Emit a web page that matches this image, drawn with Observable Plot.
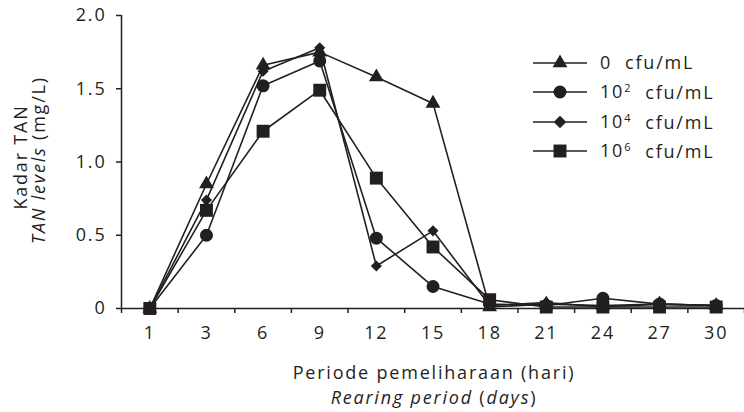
<!DOCTYPE html>
<html><head><meta charset="utf-8">
<script src="https://cdn.jsdelivr.net/npm/d3@7"></script>
<script src="https://cdn.jsdelivr.net/npm/@observablehq/plot@0.6"></script>
<style>
body{margin:0;background:#fff}
svg text{letter-spacing:1.8px}
</style>
</head><body><div id="chart"></div>
<script>
const days = [1, 3, 6, 9, 12, 15, 18, 21, 24, 27, 30];
const tan0 = [0, 0.85, 1.66, 1.75, 1.58, 1.40, 0.01, 0.03, 0.02, 0.03, 0.02];
const tan2 = [0, 0.50, 1.52, 1.69, 0.48, 0.15, 0.03, 0.02, 0.07, 0.03, 0.02];
const tan4 = [0, 0.74, 1.62, 1.78, 0.29, 0.53, 0.02, 0.04, 0.01, 0.03, 0.02];
const tan6 = [0, 0.67, 1.21, 1.49, 0.89, 0.42, 0.06, 0.01, 0.01, 0.01, 0.01];
const seriesBase = ["0", "10", "10", "10"];
const seriesExp = ["", "2", "4", "6"];
const yTicks = [0, 0.5, 1, 1.5, 2];

const symbols = ["triangle", "circle", "diamond2", "square"];
const radii = [5.5, 6.5, 5, 7.3];
const allValues = [tan0, tan2, tan4, tan6];

const idx = d3.range(days.length);
const seriesData = allValues.map(vals => idx.map(i => ({i, v: vals[i]})));

const marks = [
  Plot.ruleY([0], {stroke: "#231f20", strokeWidth: 1.5}),
  Plot.ruleX([-0.5], {y1: 0, y2: 2, stroke: "#231f20", strokeWidth: 1.5}),
  Plot.axisY({ticks: yTicks, tickFormat: d => d === 0 ? "0" : d.toFixed(1), tickSize: 5, tickPadding: 10, label: null, strokeWidth: 1.5}),
  Plot.axisX({ticks: idx, tickFormat: i => String(days[i]), tickSize: 0, tickPadding: 18, label: null}),
  Plot.axisX({ticks: d3.range(days.length + 1).map(k => k - 0.5), tickFormat: () => "", tickSize: 5, tickPadding: 0, label: null, strokeWidth: 1.5})
];
seriesData.forEach((sd, k) => {
  marks.push(Plot.line(sd, {x: "i", y: "v", stroke: "#231f20", strokeWidth: 1.6}));
});
seriesData.forEach((sd, k) => {
  marks.push(Plot.dot(sd, {x: "i", y: "v", symbol: () => symbols[k], r: radii[k], fill: "#231f20", stroke: "none"}));
});

const chart = Plot.plot({
  width: 744, height: 412,
  marginLeft: 121, marginRight: 0, marginTop: 15, marginBottom: 104,
  style: {fontFamily: "Open Sans", fontSize: "18px", color: "#231f20", background: "#fff"},
  x: {type: "linear", domain: [-0.5, days.length - 0.5], axis: null},
  y: {domain: [0, 2], axis: null},
  symbol: {type: "identity"},
  marks
});
document.getElementById("chart").appendChild(chart);

const svg = d3.select(chart);
const ink = "#231f20";
// x axis title
const xt = svg.append("text").attr("x", 434).attr("y", 379).attr("text-anchor", "middle")
  .attr("fill", ink).attr("font-size", 18).attr("font-family", "Open Sans");
xt.text("Periode pemeliharaan (hari)");
const xt2 = svg.append("text").attr("x", 434).attr("y", 404).attr("text-anchor", "middle")
  .attr("fill", ink).attr("font-size", 18).attr("font-family", "Open Sans");
xt2.append("tspan").attr("font-style", "italic").text("Rearing period ");
xt2.append("tspan").text("(");
xt2.append("tspan").attr("font-style", "italic").text("days");
xt2.append("tspan").text(")");
// y axis title
svg.append("text").attr("transform", "translate(27,157) rotate(-90)").attr("text-anchor", "middle")
  .attr("fill", ink).attr("font-size", 18).attr("font-family", "Open Sans").text("Kadar TAN");
const yt2 = svg.append("text").attr("transform", "translate(45,160) rotate(-90)").attr("text-anchor", "middle")
  .attr("fill", ink).attr("font-size", 18).attr("font-family", "Open Sans");
yt2.append("tspan").attr("font-style", "italic").text("TAN levels ");
yt2.append("tspan").text("(mg/L)");

// legend
const rowY = [63, 92, 122, 151];
const legendSyms = [d3.symbolTriangle, d3.symbolCircle, d3.symbolSquare, d3.symbolSquare];
rowY.forEach((y, k) => {
  const g = svg.append("g");
  g.append("line").attr("x1", 533).attr("x2", 587).attr("y1", y).attr("y2", y).attr("stroke", ink).attr("stroke-width", 1.6);
  const r = radii[k];
  const path = d3.symbol(legendSyms[k], Math.PI * r * r)();
  g.append("path").attr("d", path)
    .attr("transform", k === 2 ? `translate(560,${y}) rotate(45)` : `translate(560,${y})`)
    .attr("fill", ink);
  const t = g.append("text").attr("x", 600).attr("y", y).attr("dy", "0.35em").attr("fill", ink)
    .attr("text-anchor", "start")
    .attr("font-size", 18).attr("font-family", "Open Sans").style("white-space", "pre");
  t.append("tspan").text(seriesBase[k]);
  if (seriesExp[k]) t.append("tspan").attr("font-size", 11).attr("dy", "-0.6em").text(seriesExp[k]);
  const t2 = t.append("tspan").text("  cfu/mL");
  if (seriesExp[k]) t2.attr("dy", "0.38em");
});
</script>
</body></html>
